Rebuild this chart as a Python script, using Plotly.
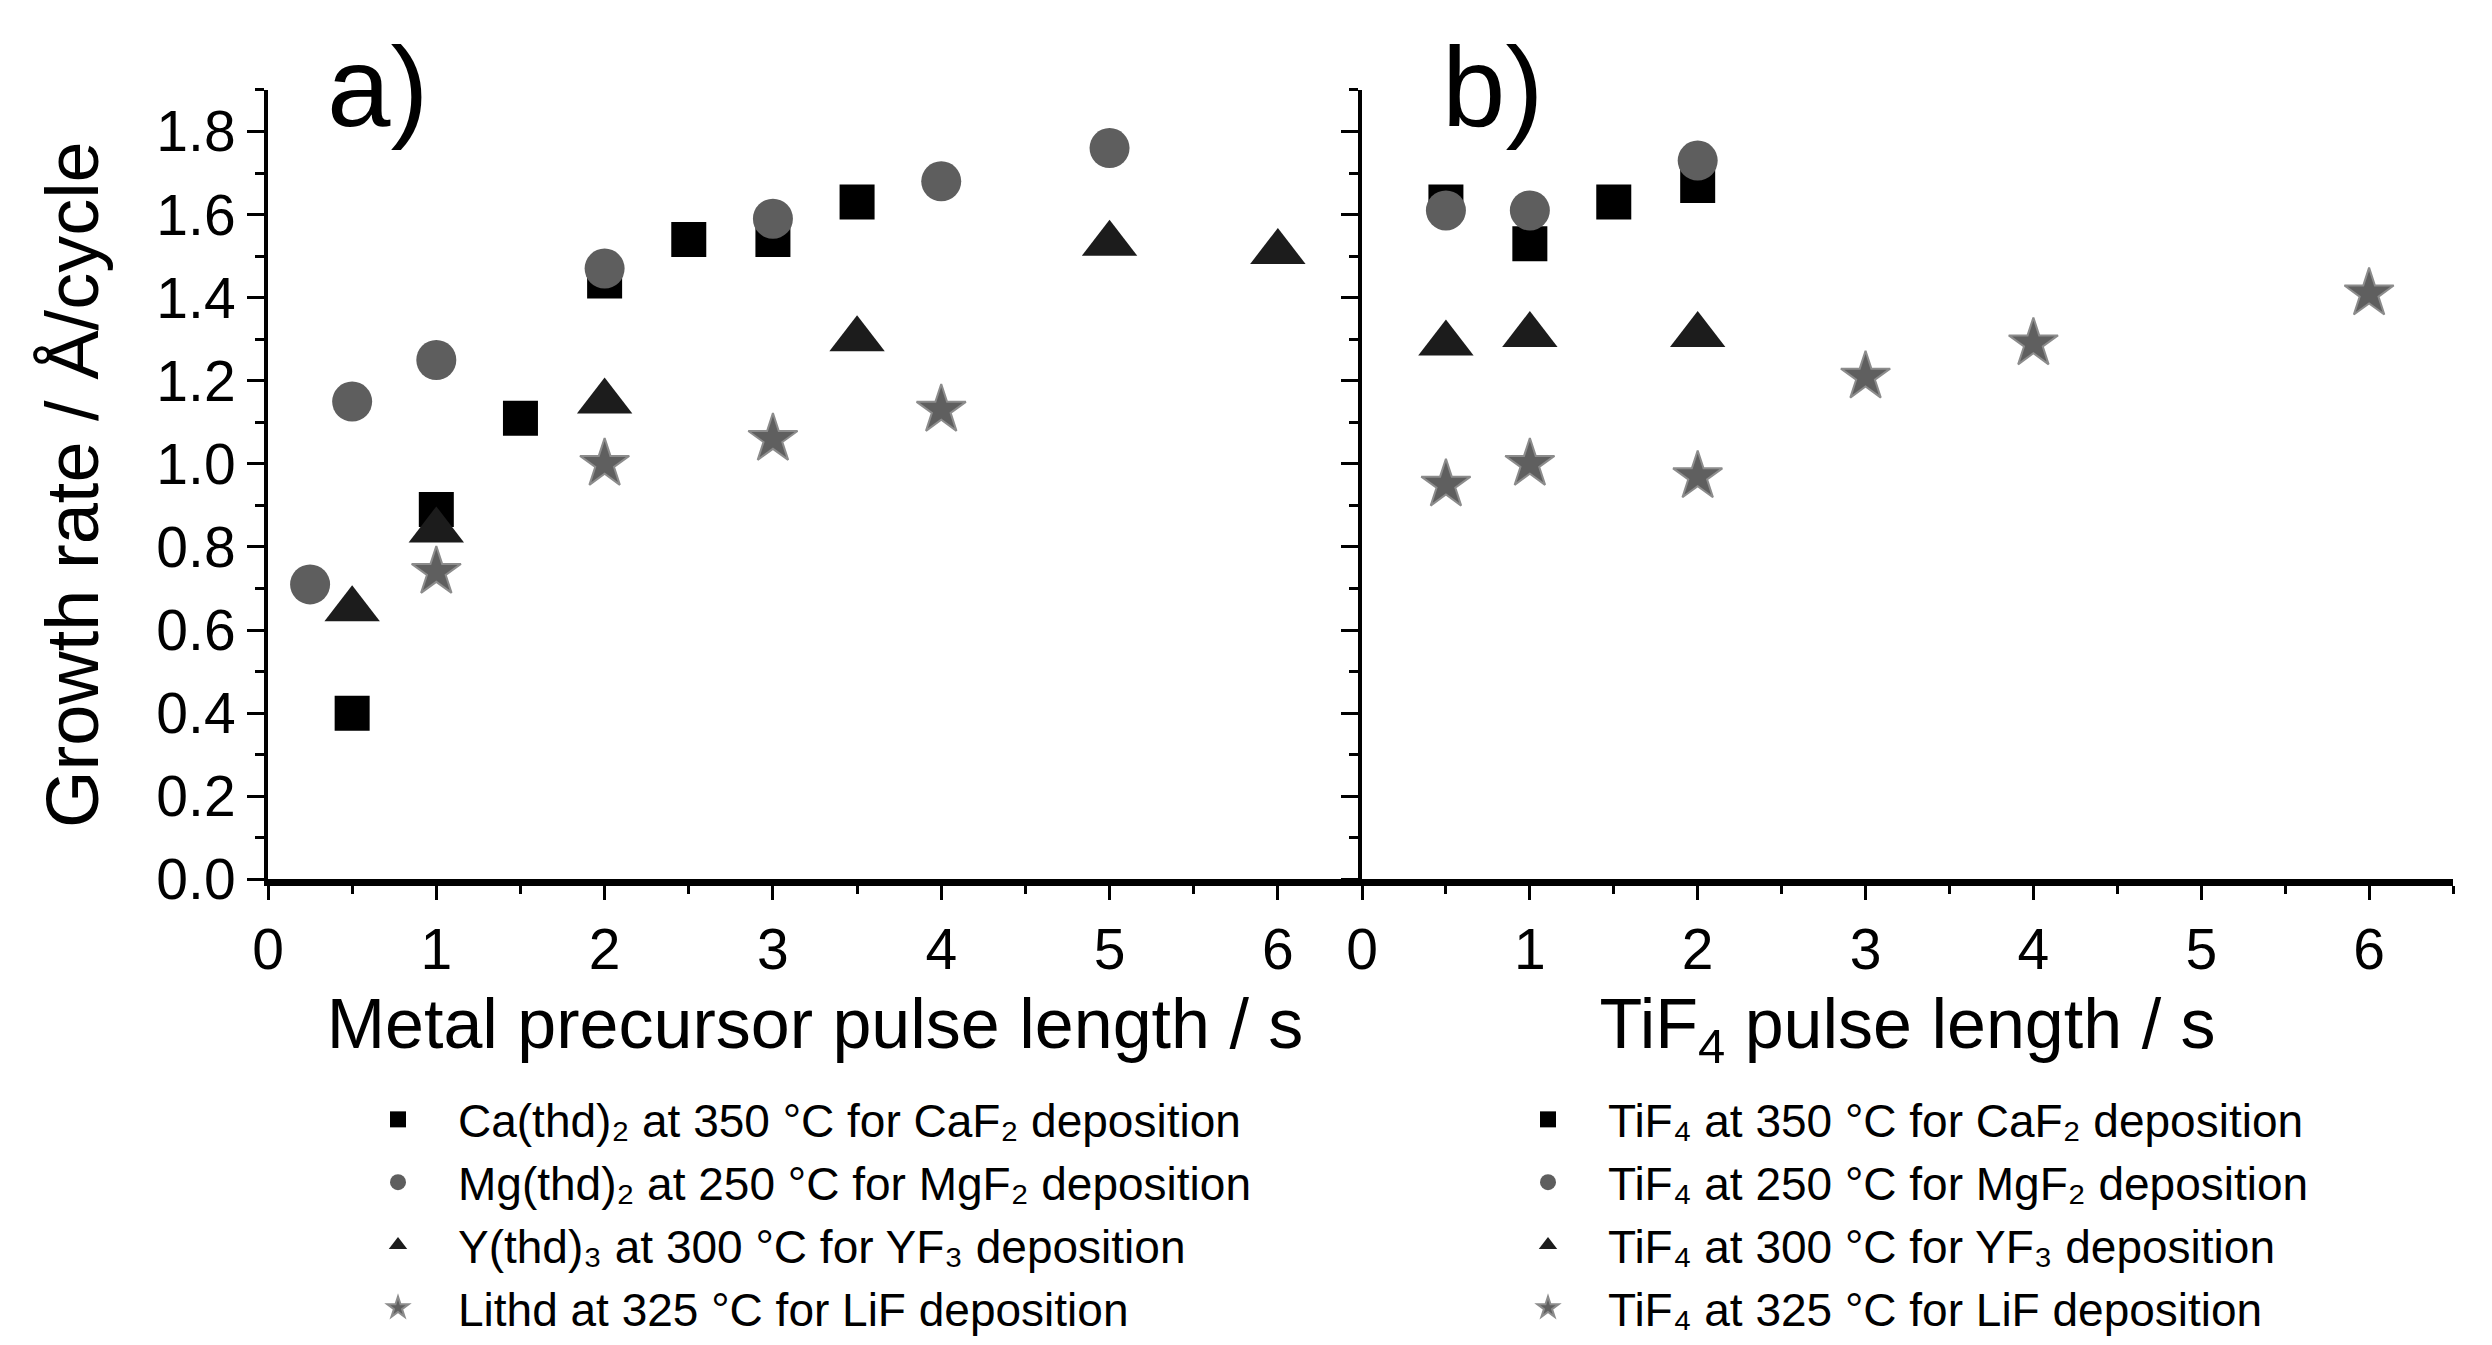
import plotly.graph_objects as go

# Panel a) - metal precursor pulse length
a_ca_x = [0.5, 1, 1.5, 2, 2.5, 3, 3.5]
a_ca_y = [0.40, 0.89, 1.11, 1.44, 1.54, 1.54, 1.63]
a_mg_x = [0.25, 0.5, 1, 2, 3, 4, 5]
a_mg_y = [0.71, 1.15, 1.25, 1.47, 1.59, 1.68, 1.76]
a_y_x = [0.5, 1, 2, 3.5, 5, 6]
a_y_y = [0.65, 0.84, 1.15, 1.30, 1.53, 1.51]
a_li_x = [1, 2, 3, 4]
a_li_y = [0.74, 1.00, 1.06, 1.13]

# Panel b) - TiF4 pulse length
b_ca_x = [0.5, 1, 1.5, 2]
b_ca_y = [1.63, 1.53, 1.63, 1.67]
b_mg_x = [0.5, 1, 2]
b_mg_y = [1.61, 1.61, 1.73]
b_y_x = [0.5, 1, 2]
b_y_y = [1.29, 1.31, 1.31]
b_li_x = [0.5, 1, 2, 3, 4, 6]
b_li_y = [0.95, 1.00, 0.97, 1.21, 1.29, 1.41]

names_a = [
    "Ca(thd)₂ at 350 °C for CaF₂ deposition",
    "Mg(thd)₂ at 250 °C for MgF₂ deposition",
    "Y(thd)₃ at 300 °C for YF₃ deposition",
    "Lithd at 325 °C for LiF deposition",
]
names_b = [
    "TiF₄ at 350 °C for CaF₂ deposition",
    "TiF₄ at 250 °C for MgF₂ deposition",
    "TiF₄ at 300 °C for YF₃ deposition",
    "TiF₄ at 325 °C for LiF deposition",
]

styles = [
    dict(symbol="square", size=35, color="#000000"),
    dict(symbol="circle", size=40, color="#5e5e5e"),
    dict(symbol="triangle-up", size=48, color="#1c1c1c"),
    dict(symbol="star", size=37, color="#5f5f5f", line=dict(color="#8c8c8c", width=2)),
]

FONT = "Liberation Sans, Arial"

fig = go.Figure()

series_a = [(a_ca_x, a_ca_y), (a_mg_x, a_mg_y), (a_y_x, a_y_y), (a_li_x, a_li_y)]
series_b = [(b_ca_x, b_ca_y), (b_mg_x, b_mg_y), (b_y_x, b_y_y), (b_li_x, b_li_y)]

for (xs, ys), name, st in zip(series_a, names_a, styles):
    fig.add_trace(go.Scatter(x=xs, y=ys, mode="markers", name=name,
                             marker=st, xaxis="x", yaxis="y", legend="legend",
                             cliponaxis=False))
for (xs, ys), name, st in zip(series_b, names_b, styles):
    fig.add_trace(go.Scatter(x=xs, y=ys, mode="markers", name=name,
                             marker=st, xaxis="x2", yaxis="y2", legend="legend2",
                             cliponaxis=False))

W, H = 2492, 1345
x0, xmid, x1 = 268 / W, 1362 / W, 2453 / W
y0, y1 = 1 - 890 / H, 1 - 91 / H

xcommon = dict(range=[0, 6.5], dtick=1, tick0=0, showline=True, linecolor="black",
               linewidth=7, ticks="outside", ticklen=14, tickwidth=3, tickcolor="black",
               showgrid=False, zeroline=False, automargin=False,
               tickfont=dict(family=FONT, size=57, color="black"),
               minor=dict(ticks="outside", ticklen=8, tickwidth=3, dtick=0.5,
                          tickcolor="black", showgrid=False),
               title_font=dict(family=FONT, size=70, color="black"),
               title_standoff=22)
ycommon = dict(range=[0, 1.9], dtick=0.2, tick0=0, showline=True, linecolor="black",
               linewidth=4, ticks="outside", ticklen=17, tickwidth=3, tickcolor="black",
               showgrid=False, zeroline=False, automargin=False,
               minor=dict(ticks="outside", ticklen=9, tickwidth=3, dtick=0.1,
                          tickcolor="black", showgrid=False))

legend_style = dict(xanchor="left", yanchor="top",
                    font=dict(family=FONT, size=46, color="black"),
                    bgcolor="rgba(0,0,0,0)", itemwidth=110, tracegroupgap=0)

fig.update_layout(
    width=W, height=H,
    margin=dict(l=0, r=0, t=0, b=0),
    paper_bgcolor="white", plot_bgcolor="white",
    xaxis=dict(domain=[x0, xmid], anchor="y",
               title_text="Metal precursor pulse length / s", **xcommon),
    xaxis2=dict(domain=[xmid, x1], anchor="y2",
                title_text="TiF<sub>4</sub> pulse length / s", **xcommon),
    yaxis=dict(domain=[y0, y1], anchor="x",
               tickformat=".1f",
               tickfont=dict(family=FONT, size=57, color="black"),
               title_text="Growth rate / Å/cycle",
               title_font=dict(family=FONT, size=74, color="black"),
               title_standoff=34, **ycommon),
    yaxis2=dict(domain=[y0, y1], anchor="x2", showticklabels=False, **ycommon),
    legend=dict(x=338 / W, y=1 - 1096 / H, **legend_style),
    legend2=dict(x=1488 / W, y=1 - 1096 / H, **legend_style),
    annotations=[
        dict(text="a)", x=325 / W, y=1 - 88 / H, xref="paper", yref="paper",
             xanchor="left", yanchor="middle", showarrow=False,
             font=dict(family=FONT, size=114, color="black")),
        dict(text="b)", x=1440 / W, y=1 - 88 / H, xref="paper", yref="paper",
             xanchor="left", yanchor="middle", showarrow=False,
             font=dict(family=FONT, size=114, color="black")),
    ],
)

fig.write_html("out.html", config={"displayModeBar": False},
               post_script="document.body.style.margin='0px';")
